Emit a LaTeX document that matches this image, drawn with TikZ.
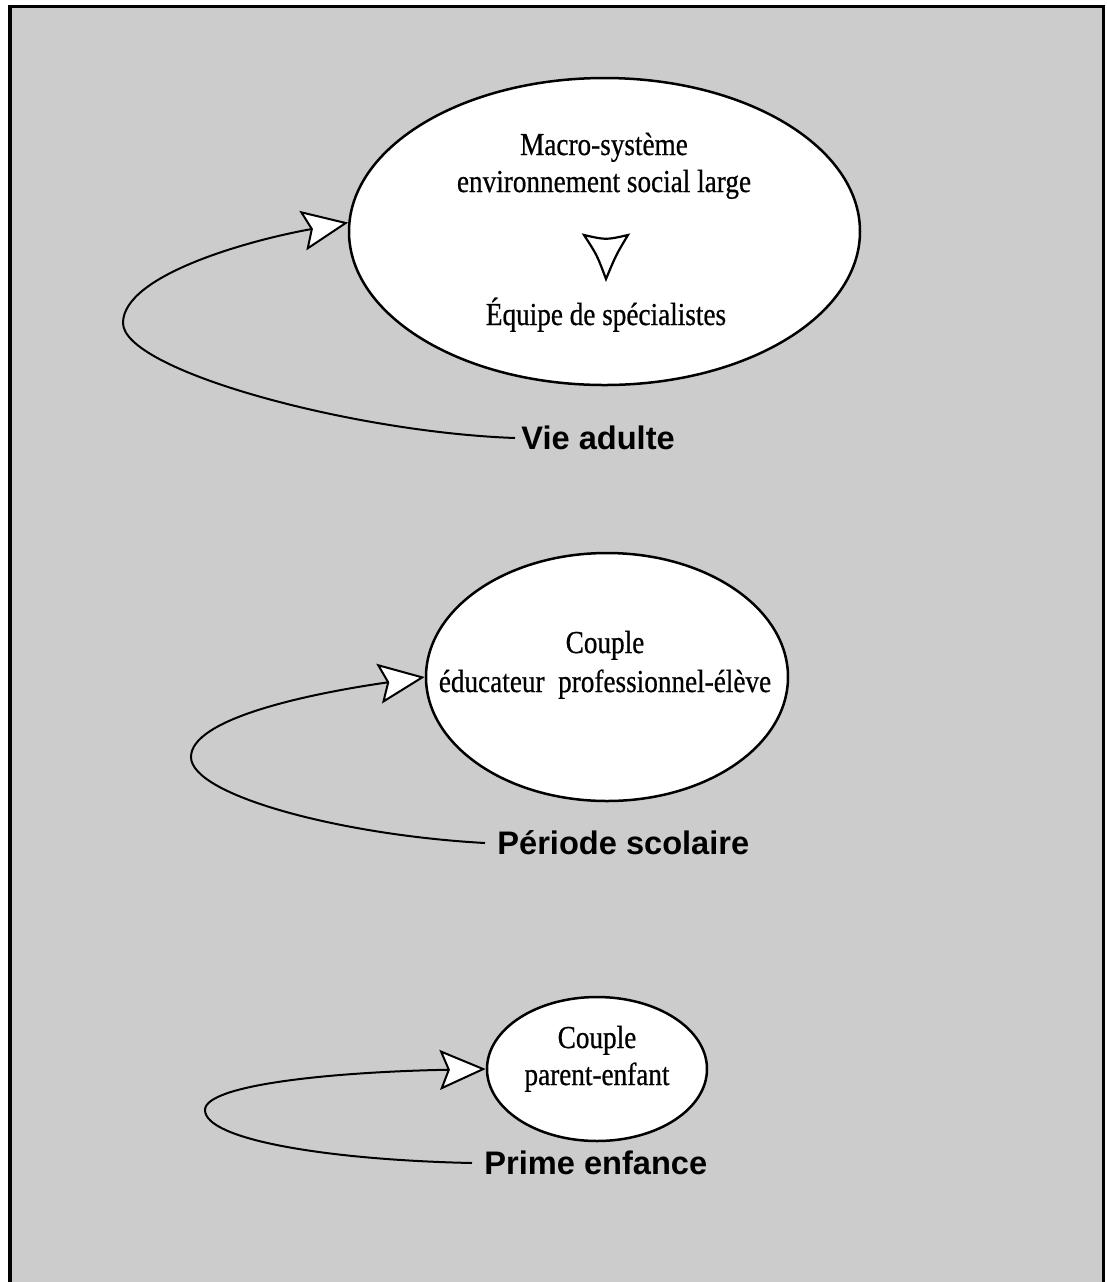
\documentclass[tikz,border=0pt]{standalone}
\usepackage{fontspec}
\setmainfont{Liberation Serif}[FakeStretch=0.85, FakeBold=0.6]
\newfontfamily\periodfont{Liberation Sans}
\usetikzlibrary{shapes.geometric,arrows.meta}
\tikzset{
  stage/.style={ % white ellipse of one life period
    draw, ellipse, fill=white, line width=1.25pt, inner sep=0pt
  },
  inside/.style={ % text line inside an ellipse
    anchor=base, inner sep=0pt, font=\fontsize{16}{19}\selectfont
  },
  period/.style={ % bold label where a loop starts
    anchor=west, inner ysep=2pt, text height=11.7pt, text depth=0pt,
    font=\periodfont\bfseries\fontsize{16.3}{19}\selectfont
  },
  loopline/.style={ % loop ending in a white arrow head
    line width=1pt,
    -{Stealth[length=23pt, width=20pt, inset=4pt, fill=white]}
  }
}

\begin{document}
\begin{tikzpicture}[x=0.5pt, y=-0.5pt]
  \useasboundingbox (0,0) rectangle (1107,1282);
  \draw[line width=1.65pt, fill=black!20] (10,6.7) rectangle (1103.3,1300);

  % adult life
  \node[stage, minimum width=255.5pt, minimum height=153.5pt] (macro) at (604.5,231.5) {};
  \node[inside] (macro_a) at (604,155) {Macro-système};
  \node[inside] (macro_b) at (604,192) {environnement social large};
  \node[inside] (team) at (606,325) {Équipe de spécialistes};
  \draw[line width=1.1pt, fill=white] (584,235) .. controls (606,240) .. (628,235)
    .. controls (616,255) .. (606,279) .. controls (597,255) .. (584,235) -- cycle;
  \node[period, inner xsep=3pt] (adult) at (515,438) {Vie adulte};
  \draw[loopline] (adult.west) .. controls (350,432) and (123,370) .. (123,323)
    .. controls (123,275) and (250,240) .. (macro.178);

  % school period
  \node[stage, minimum width=181pt, minimum height=124pt] (educ) at (607,677) {};
  \node[inside] (educ_a) at (605,653) {Couple};
  \node[inside] (educ_b) at (605,692) {éducateur\ \ professionnel-élève};
  \node[period, inner xsep=6pt] (school) at (485,843) {Période scolaire};
  \draw[loopline] (school.west) .. controls (340,835) and (191,795) .. (191,757)
    .. controls (191,720) and (300,695) .. (educ.west);

  % early childhood
  \node[stage, minimum width=110pt, minimum height=72pt] (family) at (597,1069) {};
  \node[inside] (family_a) at (597,1048) {Couple};
  \node[inside] (family_b) at (597,1085) {parent-enfant};
  \node[period, inner xsep=6pt] (infancy) at (472,1163) {Prime enfance};
  \draw[loopline] (infancy.west) .. controls (330,1160) and (205,1140) .. (205,1110)
    .. controls (205,1085) and (330,1072) .. (family.west);
\end{tikzpicture}
\end{document}
